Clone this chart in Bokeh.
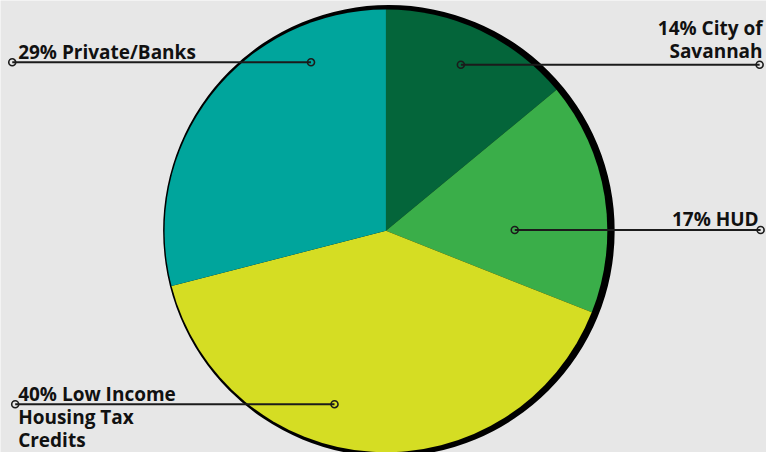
import numpy as np
from bokeh.plotting import figure
from bokeh.models import Range1d
from bokeh.core.properties import value
from bokeh.embed import file_html
from bokeh.resources import INLINE

# ---- data ----
categories = ["City of Savannah", "HUD", "Low Income Housing Tax Credits", "Private/Banks"]
shares = [14, 17, 40, 29]
colors = ["#04653a", "#3aae49", "#d5dd23", "#00a59c"]
labels = ["14% City of\nSavannah", "17% HUD", "40% Low Income\nHousing Tax\nCredits", "29% Private/Banks"]

# ---- layout (reference pixel coordinates, y downward) ----
W, H = 782, 468
PW, PH = 766, 452
BG = "#e7e7e7"

def Y(yp):
    return H - yp

p = figure(width=PW, height=PH, output_backend="svg", toolbar_location=None,
           x_range=Range1d(0, W), y_range=Range1d(0, H),
           min_border=0, background_fill_color=BG, border_fill_color=BG)
p.axis.visible = False
p.grid.visible = False
p.outline_line_color = None

cx, cy, r = 393.5, 238.5, 226

# shadow / outline circle
p.circle(x=[396.5], y=[Y(238.5)], radius=230.5, fill_color="#000000", line_color=None)

fr = np.array(shares, dtype=float) / sum(shares)
cum = np.concatenate([[0], np.cumsum(fr)])
start = np.pi / 2 - 2 * np.pi * cum[:-1]
end = np.pi / 2 - 2 * np.pi * cum[1:]
p.wedge(x=cx, y=Y(cy), radius=r, start_angle=start, end_angle=end, direction="clock",
        fill_color=colors, line_color=None)

# leader lines: (x0, x1, y) per category
leaders = {
    "City of Savannah": (470, 775, 66.5),
    "HUD": (525, 776, 237.7),
    "Low Income Housing Tax Credits": (15, 341, 418),
    "Private/Banks": (12, 317, 64),
}
SHIFT = 5
text_pos = {
    "City of Savannah": (778, 33 - SHIFT, "right", 24),
    "HUD": (774, 231 - SHIFT, "right", 24),
    "Low Income Housing Tax Credits": (18, 412.5 - SHIFT, "left", 24),
    "Private/Banks": (18, 58.5 - SHIFT, "left", 24),
}
FONT = "Open Sans"
for cat, lab in zip(categories, labels):
    x0, x1, yl = leaders[cat]
    p.segment(x0=[x0], y0=[Y(yl)], x1=[x1], y1=[Y(yl)], line_color="#1b1b1b", line_width=2)
    p.scatter(x=[x0, x1], y=[Y(yl), Y(yl)], size=7, marker="circle",
              fill_alpha=0, line_color="#1b1b1b", line_width=1.6)
    tx, ty, al, lh = text_pos[cat]
    for i, line in enumerate(lab.split("\n")):
        p.text(x=[tx], y=[Y(ty + i * lh)], text=[line], text_align=al,
               text_baseline="alphabetic", text_font=value(FONT), text_font_style="bold",
               text_font_size="19px", text_color="#111111")

open("out.html", "w").write(file_html(p, INLINE))
